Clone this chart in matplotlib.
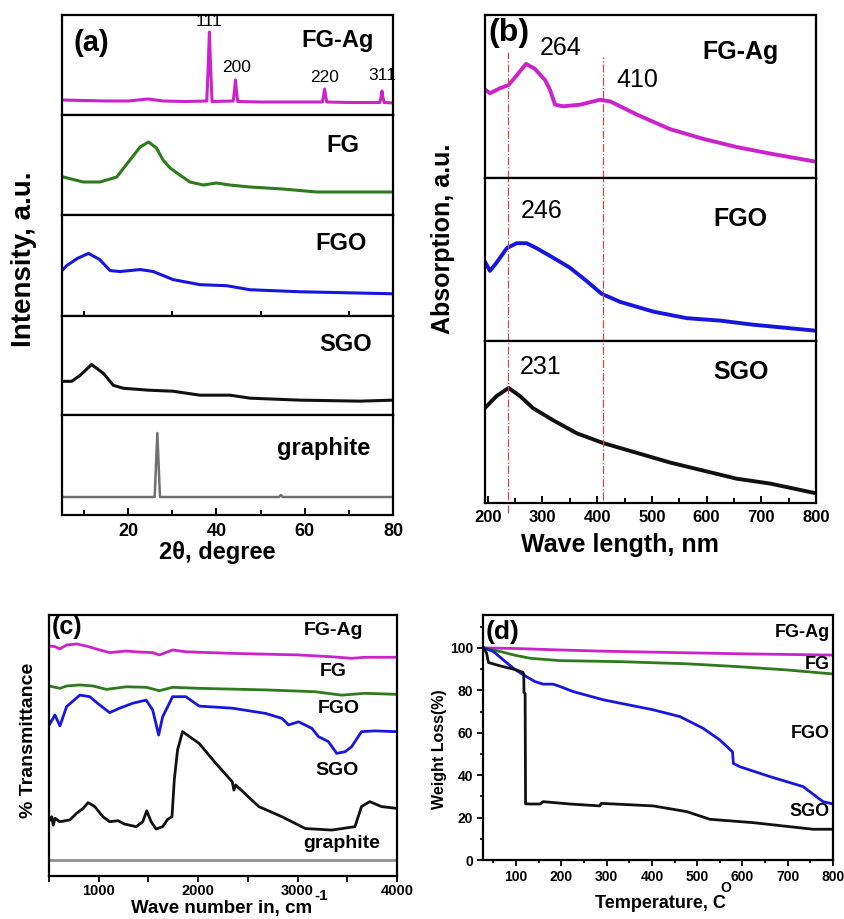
import matplotlib
matplotlib.use('Agg')
import matplotlib.pyplot as plt
from matplotlib.ticker import FixedLocator, NullLocator

plt.rcParams['font.family'] = ['Liberation Sans', 'DejaVu Sans']
plt.rcParams['mathtext.fontset'] = 'custom'
plt.rcParams['mathtext.rm'] = 'Liberation Sans'
plt.rcParams['mathtext.bf'] = 'Liberation Sans:bold'

# ---------------- data ----------------
# (a) XRD, intensity a.u. (each panel 0-100)
a_x_fgag = [5, 10, 15, 20, 24.5, 28, 33, 37.8, 38.1, 38.4, 38.7, 39.0, 43.8, 44.1, 44.3, 44.5, 44.8,
            50, 55, 60, 64.0, 64.3, 64.5, 64.7, 65.0, 70, 77.0, 77.3, 77.5, 77.7, 78.0, 80]
a_y_fgag = [15, 14.5, 14, 14, 16, 14, 13.5, 14, 45, 83, 45, 13.5, 14, 25, 35, 25, 13.5,
            13, 13, 13, 13, 20, 26, 20, 13, 12.5, 12.5, 18, 24, 18, 12.5, 12]
a_x_fg = [5.3, 9.8, 13.6, 17.4, 20.4, 22.7, 24.6, 26.4, 27.9, 29.5, 31.7, 34, 37, 40, 43, 47.6, 55, 62.7, 80]
a_y_fg = [38, 33, 33, 38, 55, 68, 73, 67, 55, 47, 40, 33, 30, 32, 30, 28, 26, 23, 23]
a_x_fgo = [5, 6.1, 8.5, 11, 13.5, 15.9, 18.1, 22.7, 25.7, 30.2, 36.3, 42.3, 47.6, 58.9, 80]
a_y_fgo = [45, 50, 57, 62, 56, 45, 44, 46, 44, 36, 31, 30, 26, 24, 22]
a_x_sgo = [5.3, 7.2, 9.1, 11.7, 14.4, 16.6, 18.9, 24.9, 30.2, 36.3, 43.1, 47.6, 58.9, 72.5, 80]
a_y_sgo = [34, 34, 40, 51, 42, 30, 27, 25, 24, 20, 20, 17, 15, 14, 15]
a_x_gr = [5, 26.0, 26.3, 26.6, 26.9, 27.2, 54.2, 54.6, 55.0, 80]
a_y_gr = [18, 18, 50, 82, 50, 18, 18, 20, 18, 18]
a_names = ['FG-Ag', 'FG', 'FGO', 'SGO', 'graphite']
a_peaks_hkl = ['111', '200', '220', '311']
a_peaks_pos = [38.4, 44.5, 64.5, 77.5]

# (b) UV-vis absorption a.u. (each panel 0-100)
b_x_fgag = [196, 204, 222, 238, 253, 270, 286, 305, 314, 323, 338, 369, 405, 424, 472, 533, 594, 655, 716, 800]
b_y_fgag = [54, 52, 55, 57, 63, 70, 67, 60, 54, 45, 44, 45, 48, 47, 39, 30, 24, 19, 15, 10]
b_x_fgo = [196, 204, 216, 235, 253, 271, 289, 320, 350, 380, 408, 442, 503, 564, 625, 685, 747, 800]
b_y_fgo = [48, 43, 48, 57, 60, 60, 57, 51, 45, 37, 29, 24, 18, 14, 12.5, 10, 8, 6.3]
b_x_sgo = [196, 216, 238, 259, 283, 320, 363, 411, 472, 533, 594, 655, 716, 800]
b_y_sgo = [59, 66, 71, 66, 58.5, 51, 43, 37, 31, 25, 20, 15, 12, 6]
b_names = ['FG-Ag', 'FGO', 'SGO']
b_ref_lines = [237, 410]

# (c) FTIR, % transmittance (arbitrary offset scale 0-100)
c_x_fgag = [503, 560, 610, 677, 777, 877, 1010, 1110, 1277, 1410, 1543, 1610, 1743, 1877, 2343, 3010, 3343, 3543, 3677, 4000]
c_y_fgag = [88.1, 87.9, 87.0, 88.5, 88.9, 88.1, 86.6, 85.6, 86.2, 85.8, 85.6, 84.7, 86.6, 85.9, 85.3, 84.7, 84.0, 83.4, 83.8, 83.8]
c_x_fg = [503, 610, 677, 810, 943, 1077, 1277, 1477, 1610, 1743, 2010, 2677, 3177, 3443, 3677, 4000]
c_y_fg = [72.8, 71.9, 72.8, 73.2, 72.8, 71.5, 72.5, 72.3, 71.0, 72.3, 71.9, 71.3, 70.6, 69.3, 70.0, 69.6]
c_x_fgo = [503, 560, 610, 677, 810, 910, 1010, 1110, 1210, 1343, 1477, 1543, 1603, 1643, 1743, 1877, 2010,
           2343, 2677, 2843, 2910, 3010, 3143, 3210, 3310, 3393, 3477, 3543, 3643, 3777, 4000]
c_y_fgo = [57.9, 61.7, 57.5, 64.9, 69.3, 68.7, 65.5, 62.6, 64.3, 66.2, 67.4, 63.6, 54.0, 61.0, 68.7, 68.7, 65.1,
           64.3, 62.3, 60.4, 57.9, 59.1, 56.6, 53.4, 51.5, 47.0, 47.6, 49.5, 55.3, 55.6, 55.3]
c_x_sgo = [510, 527, 543, 560, 610, 710, 777, 843, 893, 960, 1043, 1110, 1193, 1260, 1377, 1443, 1483, 1527,
           1577, 1643, 1693, 1737, 1760, 1793, 1843, 2010, 2177, 2343, 2360, 2377, 2610, 2843, 3077, 3343,
           3577, 3643, 3727, 3843, 4000]
c_y_sgo = [21.5, 22.7, 19.5, 22.1, 20.8, 21.5, 24.0, 25.9, 28.1, 26.6, 22.7, 20.8, 21.2, 19.9, 18.9, 20.8, 25.0, 20.8,
           18.0, 18.9, 21.7, 22.7, 36.8, 48.3, 55.3, 50.8, 43.2, 36.1, 32.9, 34.9, 26.6, 22.7, 18.2, 17.6,
           18.9, 26.6, 28.5, 26.6, 25.9]
c_x_gr = [500, 4000]
c_y_gr = [6.1, 6.1]

# (d) TGA, weight (%)
d_t_fgag = [28, 100, 200, 300, 400, 500, 600, 700, 800]
d_w_fgag = [100, 99.7, 99.0, 98.4, 98.0, 97.6, 97.2, 96.9, 96.6]
d_t_fg = [28, 65, 94, 131, 197, 330, 477, 587, 698, 800]
d_w_fg = [100, 98.3, 96.7, 95.1, 94.0, 93.5, 92.5, 91.2, 89.6, 87.7]
d_t_fgo = [28, 50, 72, 94, 116, 142, 160, 182, 197, 226, 293, 403, 462, 513, 550, 578, 580, 594, 661, 734, 778, 800]
d_w_fgo = [100, 98.3, 94.3, 90.4, 87.3, 84.1, 82.9, 82.9, 81.8, 79.4, 75.5, 70.8, 67.6, 62.1, 56.6, 51.0, 45.5, 44.0,
           39.3, 34.6, 27.5, 26.4]
d_t_sgo = [28, 35, 39, 65, 94, 115, 117, 117.5, 120, 121, 131, 153, 160, 219, 285, 288, 403, 477, 528, 624, 756, 800]
d_w_sgo = [100, 97.5, 93.1, 91.5, 90.0, 88.5, 87.5, 79, 78.5, 26.5, 26.4, 26.4, 27.5, 26.4, 25.5, 26.7, 25.5, 22.8,
           19.2, 17.6, 14.5, 14.5]

# ---------------- style ----------------
MAG = '#cc22cc'
GRN = '#2e7a1c'
BLU = '#1616e0'
BLK = '#111111'
GRY = '#707070'
RED = '#d04a4a'
SP = 1.6

W, H = 845, 919
fig = plt.figure(figsize=(W / 100, H / 100), dpi=100)


def box(l, t, r, b):
    return [l / W, 1 - b / H, (r - l) / W, (b - t) / H]


def frame(ax, lw=SP):
    for s in ax.spines.values():
        s.set_linewidth(lw)
        s.set_color('black')


# ---------------- (a) ----------------
a_tops = [15, 115, 215, 316, 415]
a_bots = [115, 215, 316, 415, 515]
a_data = [(a_x_fgag, a_y_fgag, MAG), (a_x_fg, a_y_fg, GRN), (a_x_fgo, a_y_fgo, BLU),
          (a_x_sgo, a_y_sgo, BLK), (a_x_gr, a_y_gr, GRY)]
a_lab_y = [75, 70, 72, 71, 67]
a_lab_x = [67.4, 68.6, 68.3, 69.2, 64.3]
for i, (x, y, c) in enumerate(a_data):
    ax = fig.add_axes(box(62, a_tops[i], 393, a_bots[i]))
    ax.plot(x, y, color=c, lw=2.2 if i < 4 else 1.8, solid_joinstyle='round')
    ax.set_xlim(5, 80)
    ax.set_ylim(0, 100)
    ax.yaxis.set_major_locator(NullLocator())
    frame(ax)
    ax.text(a_lab_x[i], a_lab_y[i], a_names[i], ha='center', va='center',
            fontsize=17, fontweight='bold')
    if i == 4:
        ax.xaxis.set_major_locator(FixedLocator([20, 40, 60, 80]))
        ax.xaxis.set_minor_locator(FixedLocator([10, 30, 50, 70]))
        ax.tick_params(axis='x', which='major', direction='in', length=5, width=1.4,
                       labelsize=13, pad=6)
        ax.tick_params(axis='x', which='minor', direction='in', length=3.5, width=1.4)
        for lb in ax.get_xticklabels():
            lb.set_fontweight('bold')
    elif i == 2:
        ax.xaxis.set_major_locator(NullLocator())
        ax.xaxis.set_minor_locator(FixedLocator([10, 30, 50, 70]))
        ax.tick_params(axis='x', which='minor', direction='in', length=3.5, width=1.4)
    else:
        ax.xaxis.set_major_locator(NullLocator())
    if i == 0:
        ax.text(11.7, 72, '(a)', ha='center', va='center', fontsize=21, fontweight='bold')
        hkl_y = [94, 47, 38, 40]
        for lab, px, py in zip(a_peaks_hkl, a_peaks_pos, hkl_y):
            ax.text(px, py, lab, ha='center', va='center', fontsize=12.5, clip_on=False)

fig.text(24 / W, 1 - 259 / H, 'Intensity, a.u.', rotation=90, ha='center', va='center',
         fontsize=20, fontweight='bold')
fig.text(217 / W, 1 - 552 / H, '2θ, degree', ha='center', va='center',
         fontsize=17, fontweight='bold')

# ---------------- (b) ----------------
b_tops = [15, 178, 341]
b_bots = [178, 341, 503]
b_data = [(b_x_fgag, b_y_fgag, MAG), (b_x_fgo, b_y_fgo, BLU), (b_x_sgo, b_y_sgo, BLK)]
b_lab_y = [77, 75, 81]
b_num = [('264', 333, 80), ('246', 299, 80), ('231', 297, 84)]
for i, (x, y, c) in enumerate(b_data):
    ax = fig.add_axes(box(485, b_tops[i], 816, b_bots[i]))
    ax.plot(x, y, color=c, lw=2.8, solid_joinstyle='round')
    ax.set_xlim(195, 800)
    ax.set_ylim(0, 100)
    ax.yaxis.set_major_locator(NullLocator())
    frame(ax)
    ax.text(662, b_lab_y[i], b_names[i], ha='center', va='center', fontsize=18, fontweight='bold')
    ax.text(b_num[i][1], b_num[i][2], b_num[i][0], ha='center', va='center', fontsize=18)
    if i == 0:
        ax.text(239, 89, '(b)', ha='center', va='center', fontsize=23, fontweight='bold')
        ax.text(473, 60, '410', ha='center', va='center', fontsize=18)
        ax.axvline(b_ref_lines[0], ymin=0, ymax=0.77, color=RED, lw=0.9, ls='-.')
        ax.axvline(b_ref_lines[1], ymin=0, ymax=0.74, color=RED, lw=0.9, ls='-.')
    elif i == 1:
        for v in b_ref_lines:
            ax.axvline(v, color=RED, lw=0.9, ls='-.')
    else:
        ax.axvline(b_ref_lines[0], ymin=-0.06, ymax=1, color=RED, lw=0.9, ls='-.', clip_on=False)
        ax.axvline(b_ref_lines[1], ymin=0.02, ymax=1, color=RED, lw=0.9, ls='-.')
    if i == 2:
        ax.xaxis.set_major_locator(FixedLocator([200, 300, 400, 500, 600, 700, 800]))
        ax.xaxis.set_minor_locator(FixedLocator([250, 350, 450, 550, 650, 750]))
        ax.tick_params(axis='x', which='major', direction='in', length=5, width=1.4,
                       labelsize=12, pad=5)
        ax.tick_params(axis='x', which='minor', direction='in', length=3.5, width=1.4)
        for lb in ax.get_xticklabels():
            lb.set_fontweight('bold')
    else:
        ax.xaxis.set_major_locator(NullLocator())

fig.text(443 / W, 1 - 239 / H, 'Absorption, a.u.', rotation=90, ha='center', va='center',
         fontsize=18, fontweight='bold')
fig.text(620 / W, 1 - 545 / H, 'Wave length, nm', ha='center', va='center',
         fontsize=18, fontweight='bold')

# ---------------- (c) ----------------
axc = fig.add_axes(box(49, 615, 397, 876))
for x, y, c in [(c_x_fgag, c_y_fgag, MAG), (c_x_fg, c_y_fg, GRN), (c_x_fgo, c_y_fgo, BLU),
                (c_x_sgo, c_y_sgo, BLK)]:
    axc.plot(x, y, color=c, lw=2.0, solid_joinstyle='round')
axc.plot(c_x_gr, c_y_gr, color='#909090', lw=2.0)
axc.set_xlim(500, 4000)
axc.set_ylim(0, 100)
axc.yaxis.set_major_locator(NullLocator())
axc.xaxis.set_major_locator(FixedLocator([1000, 2000, 3000, 4000]))
axc.xaxis.set_minor_locator(FixedLocator([500, 1500, 2500, 3500]))
axc.tick_params(axis='x', which='both', direction='out', length=4, width=1.3, labelsize=10.5, pad=1.5)
for lb in axc.get_xticklabels():
    lb.set_fontweight('bold')
frame(axc)
for lab, xx, yy in [('FG-Ag', 3360, 94.0), ('FG', 3360, 78.3), ('FGO', 3418, 64.2),
                    ('SGO', 3400, 40.6), ('graphite', 3440, 12.5)]:
    axc.text(xx, yy, lab, ha='center', va='center', fontsize=14, fontweight='bold')
axc.text(677, 95.5, '(c)', ha='center', va='center', fontsize=18, fontweight='bold')
fig.text(29 / W, 1 - 740 / H, '% Transmittance', rotation=90, ha='center', va='center',
         fontsize=14, fontweight='bold')
fig.text(222 / W, 2 / H, 'Wave number in, cm', ha='center', va='bottom',
         fontsize=13.5, fontweight='bold')
fig.text(314 / W, 1 - 896 / H, '-1', ha='left', va='center',
         fontsize=11, fontweight='bold')

# ---------------- (d) ----------------
axd = fig.add_axes(box(483, 615, 833, 860))
axd.plot(d_t_fgag, d_w_fgag, color=MAG, lw=2.0)
axd.plot(d_t_fg, d_w_fg, color=GRN, lw=2.0)
axd.plot(d_t_fgo, d_w_fgo, color=BLU, lw=2.0)
axd.plot(d_t_sgo, d_w_sgo, color=BLK, lw=2.0)
axd.set_xlim(27, 800)
axd.set_ylim(0, 115.5)
axd.xaxis.set_major_locator(FixedLocator([100, 200, 300, 400, 500, 600, 700, 800]))
axd.xaxis.set_minor_locator(FixedLocator([50, 150, 250, 350, 450, 550, 650, 750]))
axd.yaxis.set_major_locator(FixedLocator([0, 20, 40, 60, 80, 100]))
axd.yaxis.set_minor_locator(FixedLocator([10, 30, 50, 70, 90, 110]))
axd.tick_params(which='major', direction='out', length=4, width=1.3, labelsize=10, pad=3)
axd.tick_params(which='minor', direction='out', length=2.5, width=1.2)
for lb in axd.get_xticklabels() + axd.get_yticklabels():
    lb.set_fontweight('bold')
frame(axd)
for lab, yy in [('FG-Ag', 107.2), ('FG', 92.3), ('FGO', 59.8), ('SGO', 22.8)]:
    axd.text(793, yy, lab, ha='right', va='center', fontsize=13, fontweight='bold')
axd.text(70, 107.7, '(d)', ha='center', va='center', fontsize=19, fontweight='bold')
fig.text(440 / W, 1 - 749 / H, 'Weight Loss(%)', rotation=90, ha='center', va='center',
         fontsize=11.5, fontweight='bold')
fig.text(660 / W, 1 - 903 / H, 'Temperature, C', ha='center', va='center',
         fontsize=13, fontweight='bold')
fig.text(720 / W, 1 - 888 / H, 'O', ha='left', va='center',
         fontsize=10, fontweight='bold')

fig.savefig('out.png', dpi=100)
